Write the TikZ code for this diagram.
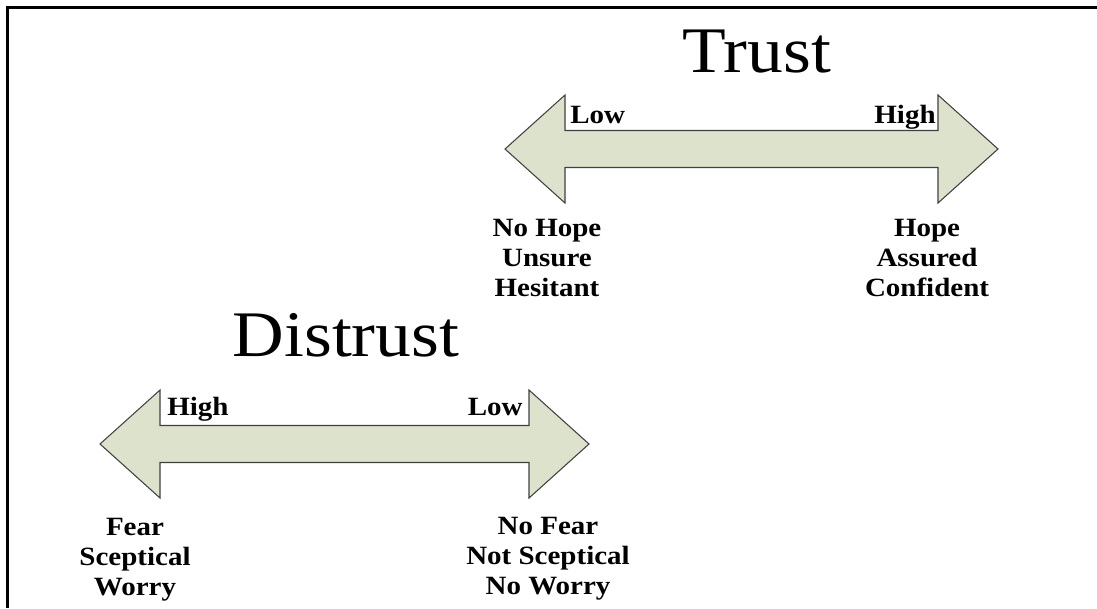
\documentclass[tikz,border=0pt]{standalone}
\usepackage{fontspec}
\setmainfont{Liberation Serif}[FakeStretch=1.1]
\usepackage{tikz}
\usetikzlibrary{positioning}
\definecolor{arrowfill}{RGB}{221,226,205}

\begin{document}
\begin{tikzpicture}[
    x=0.02cm, y=-0.02cm,
    frame/.style={line width=1.7pt,draw=black},
    body/.style={draw=black!75,fill=arrowfill,line width=0.6pt},
    title/.style={font=\fontsize{37}{40}\selectfont,inner sep=0pt,anchor=base},
    tag/.style={font=\fontsize{15}{17}\selectfont\bfseries,inner sep=0pt},
    words/.style={font=\fontsize{15}{17}\selectfont\bfseries,inner sep=0pt,
                  align=center,anchor=base},
    pics/dblarrow/.style={code={
      \draw[body] (0,0) -- (60,-54) -- (60,-18.5) -- ({#1-60},-18.5) -- ({#1-60},-54)
        -- (#1,0) -- ({#1-60},54) -- ({#1-60},18.5) -- (60,18.5) -- (60,54) -- cycle;}}
  ]
    \useasboundingbox (0,0) rectangle (1097,608);
    \draw[frame] (1097,7.5) -| (7.5,608);

    % trust scale
    \node[title] (trust) at (757,72) {Trust};
    \pic (trustarrow) at (505,149) {dblarrow=493};
    \node[tag,anchor=base west] (tlow) at (570,123) {Low};
    \node[tag,anchor=base east] (thigh) at (936,123) {High};
    \node[words] (nohope) at (547,296) {No Hope\\Unsure\\Hesitant};
    \node[words] (hope) at (927,296) {Hope\\Assured\\Confident};

    % distrust scale
    \node[title] (distrust) at (346,356) {Distrust};
    \pic (distarrow) at (100,444) {dblarrow=489};
    \node[tag,anchor=base west] (dhigh) at (167,415) {High};
    \node[tag,anchor=base east] (dlow) at (523,415) {Low};
    \node[words] (fear) at (135,595) {Fear\\Sceptical\\Worry};
    \node[words] (nofear) at (548,594) {No Fear\\Not Sceptical\\No Worry};
  \end{tikzpicture}
\end{document}
